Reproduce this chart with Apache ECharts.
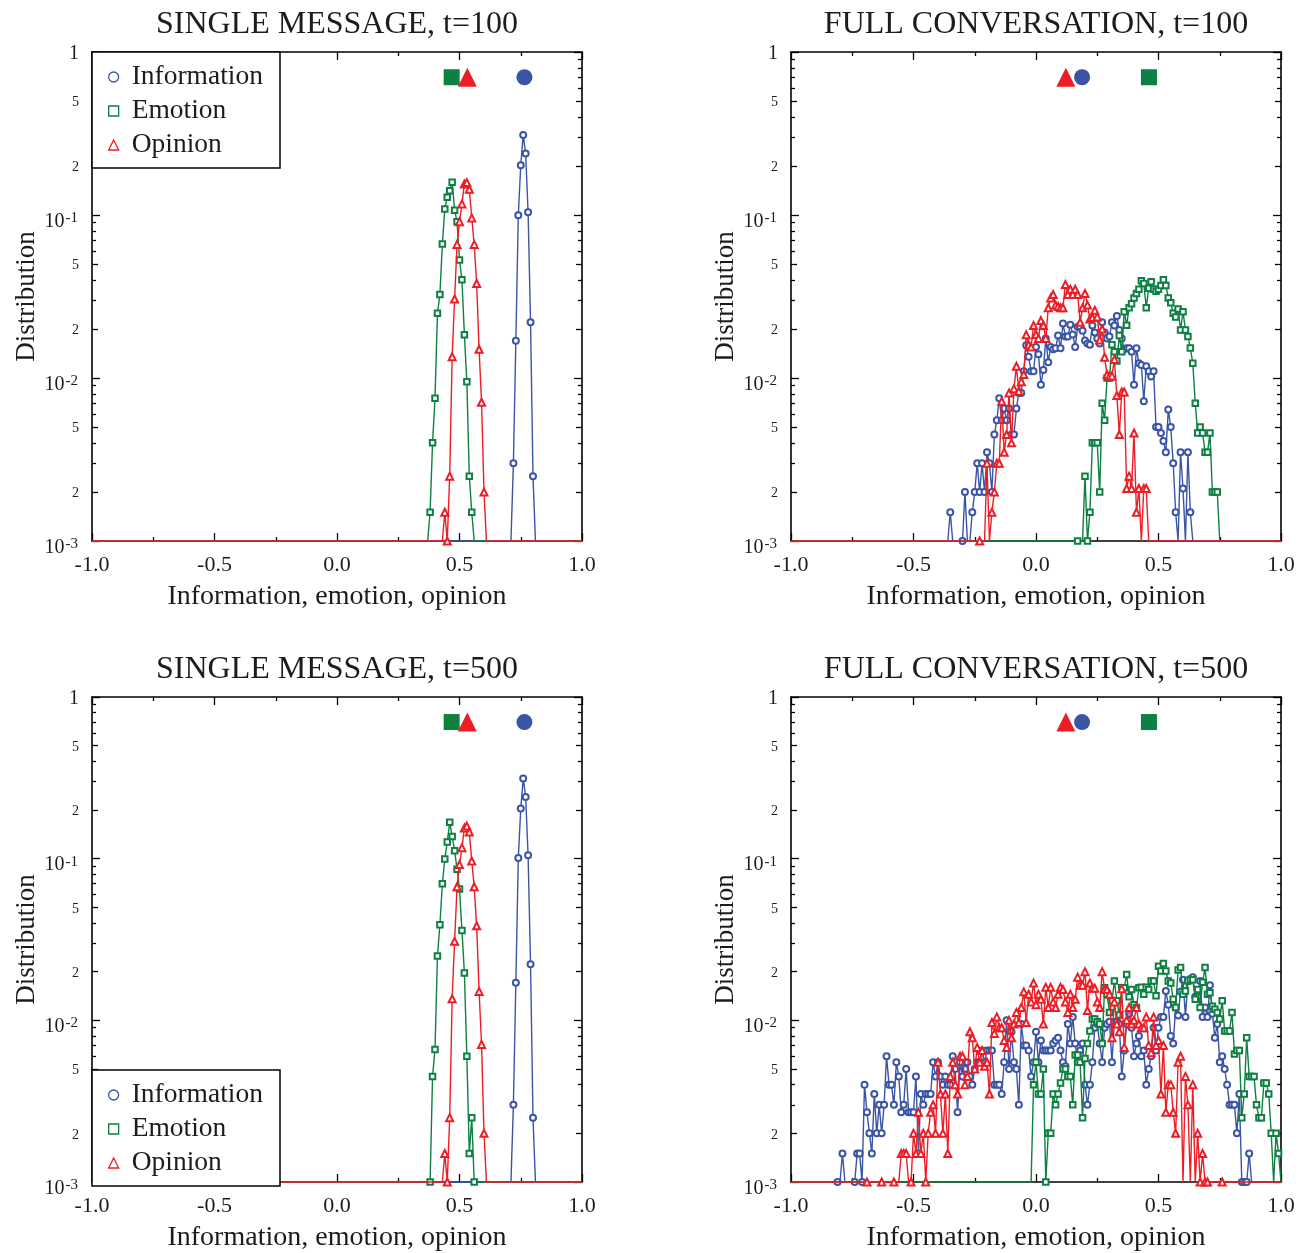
<!DOCTYPE html>
<html>
<head>
<meta charset="utf-8">
<title>Distributions of information, emotion and opinion</title>
<script src="https://cdn.jsdelivr.net/npm/echarts@6/dist/echarts.min.js"></script>
<style>
  html, body { margin: 0; padding: 0; background: #fff; }
  #chart { width: 1299px; height: 1253px; }
</style>
</head>
<body>
<div id="chart"></div>
<script>
// ---------------------------------------------------------------------------
// Histograms, bin width 0.01. Each series is stored as the centre of its first
// listed bin plus the bin heights from there on; bins outside are empty (0).
// A height of 0.001 sits on the lower edge of the log axis.
// ---------------------------------------------------------------------------

// Single message, t=100
const SM100_INFO_FROM = 0.72;
const SM100_INFO = [0.0030, 0.0169, 0.0996, 0.2018, 0.310, 0.238, 0.104, 0.022, 0.0025];
const SM100_EMO_FROM = 0.38;
const SM100_EMO = [0.0015, 0.0040, 0.0075, 0.0250, 0.0325, 0.0664, 0.109, 0.1285, 0.141, 0.159,
                   0.107, 0.091, 0.053, 0.040, 0.0184, 0.0095, 0.0025, 0.0015];
const SM100_OPI_FROM = 0.44;
const SM100_OPI = [0.0015, 0.001, 0.0025, 0.0135, 0.0305, 0.066, 0.091, 0.117, 0.155, 0.158,
                   0.144, 0.096, 0.066, 0.038, 0.015, 0.0071, 0.002];
const SM100_MEAN = [0.765, 0.468, 0.532];

// Full conversation, t=100
const FC100_INFO_FROM = -0.35;
const FC100_INFO = [
  0.0015, 0, 0, 0, 0, 0.001, 0.002, 0, 0, 0.0015,
  0.002, 0.003, 0.002, 0.003, 0.002, 0.0035, 0.003, 0.002, 0.0045, 0.0055,
  0.0075, 0.0055, 0.0065, 0.0055, 0.0065, 0.0045, 0.0045, 0.0065, 0.0081, 0.0081,
  0.011, 0.0159, 0.0135, 0.011, 0.011, 0.0155, 0.014, 0.0091, 0.0112, 0.0175,
  0.0125, 0.0155, 0.015, 0.0152, 0.0182, 0.0152, 0.0216, 0.018, 0.018, 0.0212,
  0.0185, 0.0155, 0.0206, 0.0206, 0.0195, 0.017, 0.0163, 0.016, 0.021, 0.019,
  0.0175, 0.0163, 0.022, 0.019, 0.0175, 0.018, 0.022, 0.021, 0.024, 0.0197,
  0.0175, 0.015, 0.0152, 0.0152, 0.0145, 0.0091, 0.0152, 0.0123, 0.012, 0.0072,
  0.0118, 0.011, 0.0102, 0.011, 0.005, 0.005, 0.0046, 0.0041, 0.0035, 0.0064,
  0.005, 0.003, 0.0015, 0, 0.0035, 0.0021, 0, 0.0035, 0.0015
];
const FC100_EMO_FROM = 0.17;
const FC100_EMO = [
  0.001, 0, 0, 0.0025, 0.001, 0.0015, 0.004, 0.004, 0.004, 0.002,
  0.007, 0.0055, 0.01, 0.01, 0.016, 0.0145, 0.0127, 0.0182, 0.0145, 0.0255,
  0.0211, 0.027, 0.0285, 0.031, 0.033, 0.035, 0.0395, 0.038, 0.027, 0.0355,
  0.039, 0.035, 0.034, 0.035, 0.037, 0.04, 0.037, 0.031, 0.029, 0.025,
  0.0237, 0.0265, 0.0197, 0.0255, 0.0197, 0.018, 0.0153, 0.0123, 0.007, 0.0046,
  0.005, 0.0046, 0.0035, 0.0035, 0.0046, 0.002, 0.002, 0.002
];
const FC100_OPI_FROM = -0.23;
const FC100_OPI = [
  0.001, 0, 0, 0.003, 0, 0.0015, 0.002, 0.003, 0.003, 0.0072,
  0.0035, 0.0045, 0.0081, 0.004, 0.0086, 0.0118, 0.0083, 0.0095, 0.0105, 0.0184,
  0.016, 0.0155, 0.021, 0.0185, 0.0175, 0.0225, 0.021, 0.0175, 0.027, 0.031,
  0.0325, 0.028, 0.0275, 0.027, 0.027, 0.0375, 0.0325, 0.035, 0.0325, 0.035,
  0.0325, 0.022, 0.027, 0.033, 0.028, 0.023, 0.0235, 0.026, 0.0237, 0.0171,
  0.02, 0.0134, 0.0105, 0.0103, 0.0103, 0.013, 0.0078, 0.0045, 0.0082, 0.0082,
  0.0021, 0.0025, 0.0021, 0.0046, 0.0015, 0.0021, 0, 0.0021, 0.0021
];
const FC100_MEAN = [0.188, 0.461, 0.122];

// Single message, t=500
const SM500_INFO_FROM = 0.72;
const SM500_INFO = [0.0030, 0.0171, 0.101, 0.204, 0.313, 0.241, 0.105, 0.0222, 0.0025];
const SM500_EMO_FROM = 0.38;
const SM500_EMO = [0.001, 0.0045, 0.0066, 0.025, 0.039, 0.070, 0.0995, 0.127, 0.168, 0.137,
                   0.112, 0.086, 0.065, 0.036, 0.0196, 0.006, 0.0015, 0.0025, 0.001];
const SM500_OPI_FROM = 0.44;
const SM500_OPI = [0.0015, 0.001, 0.0025, 0.0136, 0.0308, 0.067, 0.0919, 0.117, 0.155, 0.159,
                   0.146, 0.0968, 0.067, 0.0384, 0.0151, 0.0071, 0.0020];
const SM500_MEAN = [0.765, 0.468, 0.532];

// Full conversation, t=500
const FC500_INFO_FROM = -0.81;
const FC500_INFO = [
  0.001, 0, 0.0015, 0, 0, 0, 0, 0.001, 0.0015, 0.0015,
  0.001, 0.004, 0.0027, 0.002, 0.0015, 0.0035, 0.002, 0.003, 0.002, 0.003,
  0.006, 0.004, 0.004, 0.003, 0.0055, 0.0045, 0.0027, 0.003, 0.005, 0.0027,
  0.0027, 0.0027, 0.0045, 0.0015, 0.0035, 0.003, 0.0035, 0.0035, 0.0035, 0.0055,
  0.0045, 0.0055, 0.0045, 0.004, 0.0045, 0.004, 0.004, 0.006, 0.005, 0.0027,
  0.0055, 0.0045, 0.005, 0.0055, 0.0045, 0.004, 0.005, 0.0055, 0.0055, 0.0065,
  0.0055, 0.0065, 0.0065, 0.0065, 0.004, 0.004, 0.004, 0.0035, 0.0055, 0.01,
  0.005, 0.0085, 0.0055, 0.005, 0.003, 0.0095, 0.007, 0.007, 0.0065, 0.0045,
  0.0055, 0.0085, 0.0055, 0.0075, 0.0065, 0.0065, 0.0065, 0.0065, 0.0072, 0.0075,
  0.0078, 0.0065, 0.0055, 0.0052, 0.0095, 0.0072, 0.0105, 0.0072, 0.0055, 0.0065,
  0.0072, 0.004, 0.003, 0.004, 0.0055, 0.009, 0.0095, 0.0072, 0.0055, 0.009,
  0.0095, 0.0098, 0.0055, 0.0098, 0.0098, 0.0095, 0.0045, 0.0065, 0.0095, 0.011,
  0.009, 0.006, 0.0072, 0.008, 0.006, 0.0065, 0.004, 0.005, 0.006, 0.009,
  0.0065, 0.009, 0.0105, 0.0105, 0.0152, 0.0125, 0.008, 0.0072, 0.012, 0.0107,
  0.015, 0.0178, 0.0105, 0.0175, 0.018, 0.0185, 0.014, 0.014, 0.0175, 0.0105,
  0.012, 0.0105, 0.0165, 0.011, 0.0078, 0.0095, 0.0055, 0.006, 0.005, 0.004,
  0.003, 0.003, 0.003, 0.002, 0.0035, 0.001, 0.001, 0.001, 0.0015
];
const FC500_EMO_FROM = -0.01;
const FC500_EMO = [
  0.004, 0.0055, 0.0035, 0.0035, 0.005, 0.001, 0.002, 0.002, 0.0035, 0.003,
  0.0035, 0.0041, 0.005, 0.005, 0.0045, 0.0045, 0.003, 0.0061, 0.0061, 0.0055,
  0.0025, 0.0058, 0.0072, 0.0086, 0.0102, 0.0102, 0.0098, 0.0095, 0.0072, 0.0159,
  0.0145, 0.0112, 0.0132, 0.0175, 0.0132, 0.0108, 0.0159, 0.0159, 0.0192, 0.014,
  0.0155, 0.0125, 0.012, 0.0159, 0.016, 0.0145, 0.016, 0.0155, 0.0175, 0.0175,
  0.0142, 0.0216, 0.0202, 0.0225, 0.0202, 0.0175, 0.017, 0.0135, 0.012, 0.0205,
  0.0212, 0.0145, 0.0152, 0.0175, 0.0178, 0.0178, 0.0135, 0.0155, 0.012, 0.0172,
  0.0212, 0.0145, 0.0148, 0.0122, 0.0117, 0.0112, 0.0102, 0.0132, 0.0086, 0.0086,
  0.0086, 0.0112, 0.0062, 0.0065, 0.0065, 0.0025, 0.0035, 0.0078, 0.0045, 0.0045,
  0.0045, 0.003, 0.0025, 0.0025, 0.0041, 0.0041, 0.0035, 0.002, 0, 0.002,
  0.0015
];
const FC500_OPI_FROM = -0.69;
const FC500_OPI = [
  0.001, 0, 0, 0, 0, 0, 0.001, 0, 0, 0,
  0, 0.001, 0, 0, 0.0015, 0.0015, 0.0015, 0, 0.001, 0.002,
  0.0015, 0.0027, 0.0015, 0.002, 0.001, 0.002, 0.0027, 0.003, 0.002, 0.0055,
  0.0035, 0.002, 0.0035, 0.0015, 0.0045, 0.0055, 0.004, 0.0035, 0.006, 0.006,
  0.004, 0.0045, 0.0085, 0.0078, 0.005, 0.0068, 0.0055, 0.0065, 0.0052, 0.0055,
  0.0035, 0.0097, 0.0083, 0.0105, 0.009, 0.009, 0.0075, 0.0068, 0.01, 0.0078,
  0.0095, 0.0112, 0.0097, 0.012, 0.015, 0.0097, 0.0145, 0.013, 0.017, 0.0125,
  0.0145, 0.0135, 0.0095, 0.016, 0.012, 0.016, 0.013, 0.012, 0.0145, 0.016,
  0.0155, 0.013, 0.0112, 0.0145, 0.012, 0.0135, 0.0185, 0.0165, 0.0165, 0.02,
  0.0115, 0.017, 0.0158, 0.0158, 0.013, 0.012, 0.02, 0.0155, 0.0155, 0.0145,
  0.0078, 0.013, 0.0095, 0.0085, 0.0157, 0.0068, 0.01, 0.012, 0.0095, 0.01,
  0.012, 0.0095, 0.009, 0.009, 0.0105, 0.007, 0.0063, 0.0105, 0.007, 0.0075,
  0.0035, 0.007, 0.0027, 0.004, 0.004, 0.0027, 0.002, 0.0055, 0.006, 0,
  0.0045, 0.003, 0, 0.004, 0, 0.002, 0.001, 0.0015, 0.001, 0.001,
  0, 0, 0, 0, 0, 0.001
];
const FC500_MEAN = [0.188, 0.461, 0.122];

// ---------------------------------------------------------------------------
// Styling and layout
// ---------------------------------------------------------------------------
const FONT = '"Liberation Serif", "Times New Roman", Times, serif';
const INK = '#1c1c1c';
const SERIES_NAMES = ['Information', 'Emotion', 'Opinion'];
const SERIES_COLORS = ['#3a54a6', '#0d8042', '#ee1d25'];
const HOLLOW_SYMBOL = ['emptyCircle', 'emptyRect', 'emptyTriangle'];
const HOLLOW_SIZE = [6, 5.5, 7];
const SOLID_SYMBOL = ['circle', 'rect', 'triangle'];
const SOLID_SIZE = [16, 16, 19];
const LEGEND_ICON = ['circle', 'rect', 'triangle'];

const X_MIN = -1, X_MAX = 1, BIN = 0.01;
const Y_MIN = 0.001, Y_MAX = 1;
const MEAN_LEVEL = 0.7;          // height at which the mean markers are placed
const PLOT_W = 490, PLOT_H = 489;

const PANELS = [
  { title: 'SINGLE MESSAGE, t=100', left: 92, top: 52, legend: 'top',
    hist: [[SM100_INFO_FROM, SM100_INFO], [SM100_EMO_FROM, SM100_EMO], [SM100_OPI_FROM, SM100_OPI]],
    means: SM100_MEAN },
  { title: 'FULL CONVERSATION, t=100', left: 791, top: 52, legend: null,
    hist: [[FC100_INFO_FROM, FC100_INFO], [FC100_EMO_FROM, FC100_EMO], [FC100_OPI_FROM, FC100_OPI]],
    means: FC100_MEAN },
  { title: 'SINGLE MESSAGE, t=500', left: 92, top: 697, legend: 'bottom',
    hist: [[SM500_INFO_FROM, SM500_INFO], [SM500_EMO_FROM, SM500_EMO], [SM500_OPI_FROM, SM500_OPI]],
    means: SM500_MEAN },
  { title: 'FULL CONVERSATION, t=500', left: 791, top: 697, legend: null,
    hist: [[FC500_INFO_FROM, FC500_INFO], [FC500_EMO_FROM, FC500_EMO], [FC500_OPI_FROM, FC500_OPI]],
    means: FC500_MEAN }
];

// tick positions on the log axis
const Y_DECADES = [0.001, 0.01, 0.1, 1];
const Y_TWO_FIVE = [];
const Y_OTHER = [];
[0.001, 0.01, 0.1].forEach(function (d) {
  [2, 5].forEach(function (m) { Y_TWO_FIVE.push(+(m * d).toPrecision(3)); });
  [3, 4, 6, 7, 8, 9].forEach(function (m) { Y_OTHER.push(+(m * d).toPrecision(3)); });
});

// Whole -1..1 bin range; empty bins are drawn on the lower edge without a marker.
function binsOf(from, heights) {
  const pts = [];
  const n = Math.round((X_MAX - X_MIN) / BIN);
  for (let i = 0; i <= n; i++) {
    const x = +(X_MIN + i * BIN).toFixed(2);
    const k = Math.round((x - from) / BIN);
    const h = (k >= 0 && k < heights.length) ? heights[k] : 0;
    if (h > 0) pts.push({ value: [x, h] });
    else pts.push({ value: [x, Y_MIN], symbol: 'none' });
  }
  return pts;
}

function decadeLabel(v) {
  return '{d|10}{s|' + Math.round(Math.log10(v)) + '}';
}
function minorLabel(v) {
  if (Math.abs(v - 1) < 1e-9) return '{one|1}';
  const e = Math.floor(Math.log10(v) + 1e-9);
  return '{m|' + Math.round(v / Math.pow(10, e)) + '}';
}

const axisLineStyle = { color: '#000', width: 1.6 };
const tickLineStyle = { color: '#000', width: 1.3 };

const grid = [], xAxis = [], yAxis = [], series = [], legend = [], graphic = [];

PANELS.forEach(function (p, g) {
  grid.push({ left: p.left, top: p.top, width: PLOT_W, height: PLOT_H, containLabel: false });

  // x axes: bottom (labelled) and a mirrored top one
  const xBase = {
    gridIndex: g, type: 'value', min: X_MIN, max: X_MAX, interval: 0.5,
    splitLine: { show: false }, minorSplitLine: { show: false },
    axisLine: { show: true, onZero: false, lineStyle: axisLineStyle },
    axisTick: { show: true, inside: true, length: 8, lineStyle: tickLineStyle },
    minorTick: { show: true, splitNumber: 2, length: 4, lineStyle: tickLineStyle }
  };
  xAxis.push(Object.assign({}, xBase, {
    position: 'bottom',
    axisLabel: {
      show: true, margin: 13, fontSize: 22, fontFamily: FONT, color: INK,
      showMinLabel: true, showMaxLabel: true,
      formatter: function (v) { return v.toFixed(1); }
    },
    name: 'Information, emotion, opinion', nameLocation: 'middle', nameGap: 42,
    nameTextStyle: { fontSize: 28, fontFamily: FONT, color: INK }
  }));
  xAxis.push(Object.assign({}, xBase, { position: 'top', axisLabel: { show: false } }));

  // y axes: three tick families on each side (decades, 2 and 5, the rest)
  const yBase = {
    gridIndex: g, type: 'log', logBase: 10, min: Y_MIN, max: Y_MAX,
    splitLine: { show: false }, minorTick: { show: false }, minorSplitLine: { show: false }
  };
  ['left', 'right'].forEach(function (side) {
    const left = side === 'left';
    yAxis.push(Object.assign({}, yBase, {
      position: side,
      axisLine: { show: true, onZero: false, lineStyle: axisLineStyle },
      axisTick: { show: true, inside: true, length: 8, customValues: Y_DECADES, lineStyle: tickLineStyle },
      axisLabel: left ? {
        show: true, margin: 14, customValues: [0.001, 0.01, 0.1],
        formatter: decadeLabel, padding: [12, 0, 0, 0],
        rich: {
          d: { fontSize: 20, lineHeight: 21, fontFamily: FONT, color: INK, verticalAlign: 'bottom' },
          s: { fontSize: 15, lineHeight: 15, fontFamily: FONT, color: INK, verticalAlign: 'bottom', padding: [0, 0, 6, 1] }
        }
      } : { show: false },
      name: left ? 'Distribution' : '', nameLocation: 'middle', nameGap: 52, nameRotate: 90,
      nameTextStyle: { fontSize: 27, fontFamily: FONT, color: INK }
    }));
    yAxis.push(Object.assign({}, yBase, {
      position: side,
      axisLine: { show: false, onZero: false },
      axisTick: { show: true, inside: true, length: 6, customValues: Y_TWO_FIVE, lineStyle: tickLineStyle },
      axisLabel: left ? {
        show: true, margin: 13, padding: [3, 0, 0, 0],
        customValues: [0.002, 0.005, 0.02, 0.05, 0.2, 0.5, 1],
        formatter: minorLabel,
        rich: {
          m: { fontSize: 14, fontFamily: FONT, color: INK },
          one: { fontSize: 20, fontFamily: FONT, color: INK }
        }
      } : { show: false }
    }));
    yAxis.push(Object.assign({}, yBase, {
      position: side,
      axisLine: { show: false, onZero: false },
      axisTick: { show: true, inside: true, length: 4, customValues: Y_OTHER, lineStyle: tickLineStyle },
      axisLabel: { show: false }
    }));
  });

  // histogram lines, then the mean markers on top
  p.hist.forEach(function (h, k) {
    series.push({
      type: 'line', name: SERIES_NAMES[k],
      xAxisIndex: 2 * g, yAxisIndex: 6 * g,
      data: binsOf(h[0], h[1]),
      symbol: HOLLOW_SYMBOL[k], symbolSize: HOLLOW_SIZE[k], showAllSymbol: true,
      lineStyle: { color: SERIES_COLORS[k], width: 1.4 },
      itemStyle: { color: SERIES_COLORS[k], borderWidth: 1.2, opacity: 1 },
      clip: false, z: 3 + k * 0.1, silent: true, animation: false,
      emphasis: { disabled: true }
    });
  });
  p.means.forEach(function (m, k) {
    series.push({
      type: 'scatter', name: SERIES_NAMES[k] + ' mean',
      xAxisIndex: 2 * g, yAxisIndex: 6 * g,
      data: [[m, MEAN_LEVEL]],
      symbol: SOLID_SYMBOL[k], symbolSize: SOLID_SIZE[k],
      itemStyle: { color: SERIES_COLORS[k], opacity: 1 },
      z: 5, silent: true, animation: false, emphasis: { disabled: true }
    });
  });

  if (p.legend) {
    const l = {
      orient: 'vertical', left: p.left,
      padding: [10, 17, 8, 16], itemGap: 4, itemWidth: 10, itemHeight: 10,
      borderColor: '#000', borderWidth: 1.5, backgroundColor: '#fff',
      selectedMode: false, z: 6,
      textStyle: { fontSize: 27.5, fontFamily: FONT, color: INK, lineHeight: 30, padding: [0, 0, 0, 8] },
      data: SERIES_NAMES.map(function (n, k) {
        return {
          name: n, icon: LEGEND_ICON[k],
          itemStyle: { color: '#fff', borderColor: SERIES_COLORS[k], borderWidth: 1.3 }
        };
      })
    };
    if (p.legend === 'top') l.top = p.top;
    else l.bottom = 1253 - (p.top + PLOT_H);
    legend.push(l);
  }

  graphic.push({
    type: 'text', x: p.left + PLOT_W / 2, y: p.top - 27,
    style: {
      text: p.title, font: '32px ' + FONT, fill: INK,
      textAlign: 'center', textVerticalAlign: 'middle'
    }
  });
});

const chart = echarts.init(document.getElementById('chart'), null, { renderer: 'canvas' });
chart.setOption({
  backgroundColor: '#fff',
  animation: false,
  grid: grid, xAxis: xAxis, yAxis: yAxis, series: series,
  legend: legend, graphic: graphic,
  tooltip: { show: false }
});
</script>
</body>
</html>
